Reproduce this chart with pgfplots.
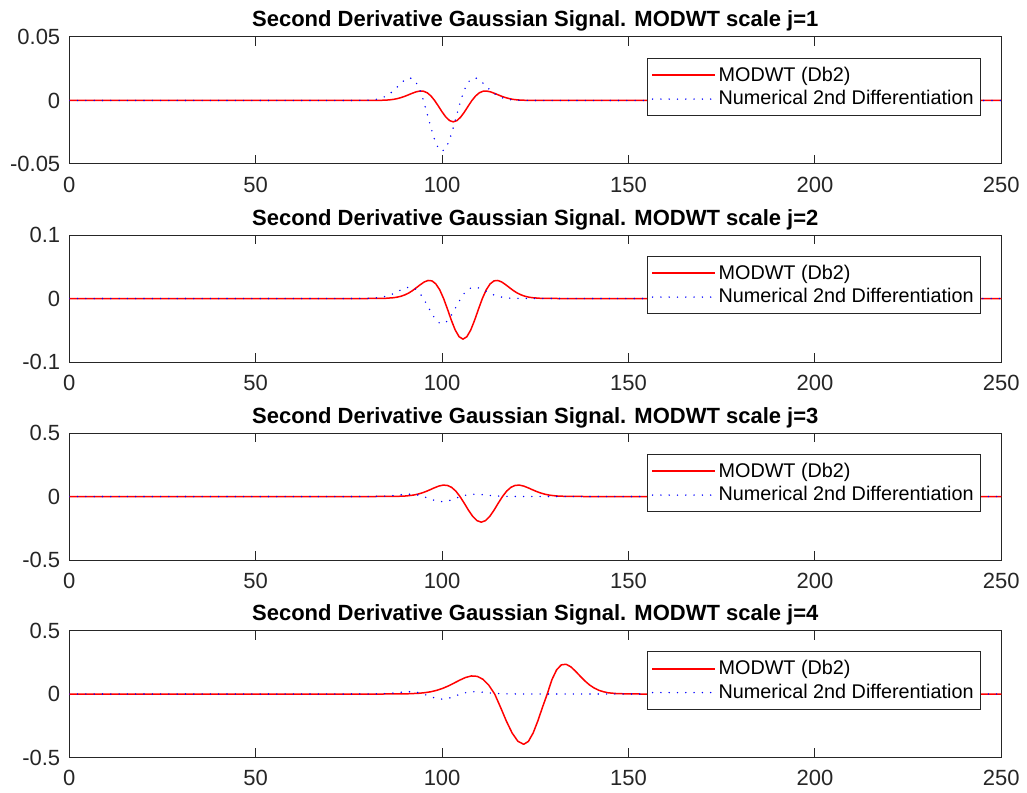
\documentclass[border=0pt]{standalone}
\usepackage{fontspec}
\setmainfont{Liberation Sans}
\usepackage{pgfplots}
\pgfplotsset{compat=1.18}
\definecolor{axgray}{rgb}{0.15,0.15,0.15}
\definecolor{mred}{rgb}{1,0,0}
\definecolor{mblue}{rgb}{0,0,1}
\pgfplotsset{
  every axis title/.style={at={(0.5,1)}, anchor=base, yshift=5pt, inner sep=0pt,
    font=\bfseries\fontsize{11}{13}\selectfont},
  mystyle/.style={
    scale only axis, width=466pt, height=63.5pt,
    xmin=0, xmax=250,
    xtick={0,50,100,150,200,250}, xticklabels={0,50,100,150,200,250},
    scaled ticks=false, clip=true,
    tick align=inside, major tick length=4.65pt,
    axis line style={axgray, line width=0.5pt},
    every tick/.style={axgray, line width=0.5pt},
    tick label style={font=\fontsize{11}{13}\selectfont, text=axgray},
    xticklabel style={yshift=-3pt},
    yticklabel style={xshift=-1pt},
    legend style={at={(0.9785,0.835)}, anchor=north east, draw=axgray, line width=0.5pt,
      font=\fontsize{9.9}{12}\selectfont, inner xsep=2pt, inner ysep=2.5pt,
      row sep=0pt, nodes={inner sep=1.6pt}},
    legend cell align=left,
  }
}
\newcommand{\redimg}{\addlegendimage{legend image code/.code={\fill[mred] (0pt,-0.27pt) rectangle (31pt,0.27pt);}}}
\newcommand{\blueimg}{\addlegendimage{legend image code/.code={\draw[color=mblue, line width=0.8pt, line cap=round, dash pattern=on 0pt off 4.15pt] (0pt,0pt) -- (31pt,0pt);}}}
\pgfplotstableread{
x y
0 0
75 0
80 0.0002
82 0.00073
83 0.00131
84 0.00221
85 0.00356
86 0.00542
87 0.00784
88 0.01069
89 0.01366
90 0.01624
91 0.01773
92 0.01735
93 0.01441
94 0.00857
95 0
96 -0.01046
97 -0.02138
98 -0.03102
99 -0.03764
100 -0.04
101 -0.03764
102 -0.03102
103 -0.02138
104 -0.01046
105 0
106 0.00857
107 0.01441
108 0.01735
109 0.01773
110 0.01624
111 0.01366
112 0.01069
113 0.00784
114 0.00542
115 0.00356
116 0.00221
117 0.00131
118 0.00073
120 0.0002
125 0
250 0
}\blue
\pgfplotstableread{
x y
0 0
78 0
83 0.0001
85 0.0003
86 0.00055
87 0.0009
88 0.0015
89 0.0023
90 0.0033
91 0.0045
92 0.0057
93 0.0068
94 0.0074
95 0.0073
96 0.0061
97 0.0036
98 0
99 -0.0044
100 -0.0090
101 -0.0130
102 -0.0158
103 -0.0168
104 -0.0158
105 -0.0130
106 -0.0090
107 -0.0044
108 0
109 0.0036
110 0.0061
111 0.0073
112 0.0074
113 0.0068
114 0.0057
115 0.0045
116 0.0033
117 0.0023
118 0.0015
119 0.0009
120 0.00055
121 0.0003
123 0.0001
128 0
250 0
}\redA
\pgfplotstableread{
x y
0 0
80 0
84.8 0.0003
86.88 0.0012
87.92 0.0021
88.96 0.0035
90.0 0.0057
91.04 0.0086
92.08 0.0125
93.12 0.0171
94.16 0.0218
95.2 0.0260
96.24 0.0284
97.28 0.0278
98.32 0.0230
99.36 0.0137
100.4 0
101.44 -0.0167
102.48 -0.0342
103.52 -0.0496
104.56 -0.0602
105.6 -0.0640
106.64 -0.0602
107.68 -0.0496
108.72 -0.0342
109.76 -0.0167
110.8 0
111.84 0.0137
112.88 0.0230
113.92 0.0278
114.96 0.0284
116.0 0.0260
117.04 0.0218
118.08 0.0171
119.12 0.0125
120.16 0.0086
121.2 0.0057
122.24 0.0035
123.28 0.0021
124.32 0.0012
126.4 0.0003
131 0
250 0
}\redB
\pgfplotstableread{
x y
0 0
82 0
87.7 0.0010
89.98 0.0036
91.12 0.0067
92.26 0.0111
93.4 0.0180
94.54 0.0273
95.68 0.0396
96.82 0.0539
97.96 0.0689
99.1 0.0820
100.24 0.0895
101.38 0.0877
102.52 0.0727
103.66 0.0432
104.8 0
105.94 -0.0527
107.08 -0.1081
108.22 -0.1566
109.36 -0.1901
110.5 -0.2020
111.64 -0.1901
112.78 -0.1566
113.92 -0.1081
115.06 -0.0527
116.2 0
117.34 0.0432
118.48 0.0727
119.62 0.0877
120.76 0.0895
121.9 0.0820
123.04 0.0689
124.18 0.0539
125.32 0.0396
126.46 0.0273
127.6 0.0180
128.74 0.0111
129.88 0.0067
131.02 0.0036
133.3 0.0010
138 0
250 0
}\redC
\pgfplotstableread{
x y
0 0
84 0
90.7 0.0016
93.82 0.0058
95.38 0.0106
96.94 0.0176
98.5 0.0286
100.06 0.0433
101.62 0.0629
103.18 0.0857
104.74 0.1094
106.3 0.1302
107.86 0.1421
109.42 0.1392
110.98 0.1155
112.54 0.0687
114.1 0
115.66 -0.1034
117.22 -0.2119
118.78 -0.3069
120.34 -0.3726
121.9 -0.3960
123.16 -0.3726
124.42 -0.3069
125.68 -0.2119
126.94 -0.1034
128.2 0
129.46 0.1132
130.72 0.1904
131.98 0.2296
133.24 0.2343
134.5 0.2148
135.76 0.1804
137.02 0.1412
138.28 0.1037
139.54 0.0714
140.8 0.0471
142.06 0.0291
143.32 0.0175
144.58 0.0095
147.1 0.0026
153 0
250 0
}\redD
\begin{document}
\begin{tikzpicture}
\begin{axis}[mystyle, at={(34.65pt,-18.5pt)}, anchor=north west,
  ymin=-0.05, ymax=0.05, ytick={-0.05,0,0.05}, yticklabels={-0.05,0,0.05},
  title={Second Derivative Gaussian Signal. MODWT scale j=1}]
\redimg \addlegendentry{MODWT (Db2)}
\blueimg \addlegendentry{Numerical 2nd Differentiation}
\addplot[color=mred, line width=0.75pt, line join=round, forget plot] table {\redA};
\addplot[color=mblue, line width=0.8pt, line cap=round, dash pattern=on 0pt off 4.15pt, forget plot] table {\blue};
\end{axis}
\begin{axis}[mystyle, at={(34.65pt,-117.5pt)}, anchor=north west,
  ymin=-0.1, ymax=0.1, ytick={-0.1,0,0.1}, yticklabels={-0.1,0,0.1},
  title={Second Derivative Gaussian Signal. MODWT scale j=2}]
\redimg \addlegendentry{MODWT (Db2)}
\blueimg \addlegendentry{Numerical 2nd Differentiation}
\addplot[color=mred, line width=0.75pt, line join=round, forget plot] table {\redB};
\addplot[color=mblue, line width=0.8pt, line cap=round, dash pattern=on 0pt off 4.15pt, forget plot] table {\blue};
\end{axis}
\begin{axis}[mystyle, at={(34.65pt,-216.5pt)}, anchor=north west,
  ymin=-0.5, ymax=0.5, ytick={-0.5,0,0.5}, yticklabels={-0.5,0,0.5},
  title={Second Derivative Gaussian Signal. MODWT scale j=3}]
\redimg \addlegendentry{MODWT (Db2)}
\blueimg \addlegendentry{Numerical 2nd Differentiation}
\addplot[color=mred, line width=0.75pt, line join=round, forget plot] table {\redC};
\addplot[color=mblue, line width=0.8pt, line cap=round, dash pattern=on 0pt off 4.15pt, forget plot] table {\blue};
\end{axis}
\begin{axis}[mystyle, at={(34.65pt,-315.25pt)}, anchor=north west,
  ymin=-0.5, ymax=0.5, ytick={-0.5,0,0.5}, yticklabels={-0.5,0,0.5},
  title={Second Derivative Gaussian Signal. MODWT scale j=4}]
\redimg \addlegendentry{MODWT (Db2)}
\blueimg \addlegendentry{Numerical 2nd Differentiation}
\addplot[color=mred, line width=0.75pt, line join=round, forget plot] table {\redD};
\addplot[color=mblue, line width=0.8pt, line cap=round, dash pattern=on 0pt off 4.15pt, forget plot] table {\blue};
\end{axis}
\pgfresetboundingbox
\useasboundingbox (0,0) rectangle (513.5pt,-396pt);
\end{tikzpicture}
\end{document}
